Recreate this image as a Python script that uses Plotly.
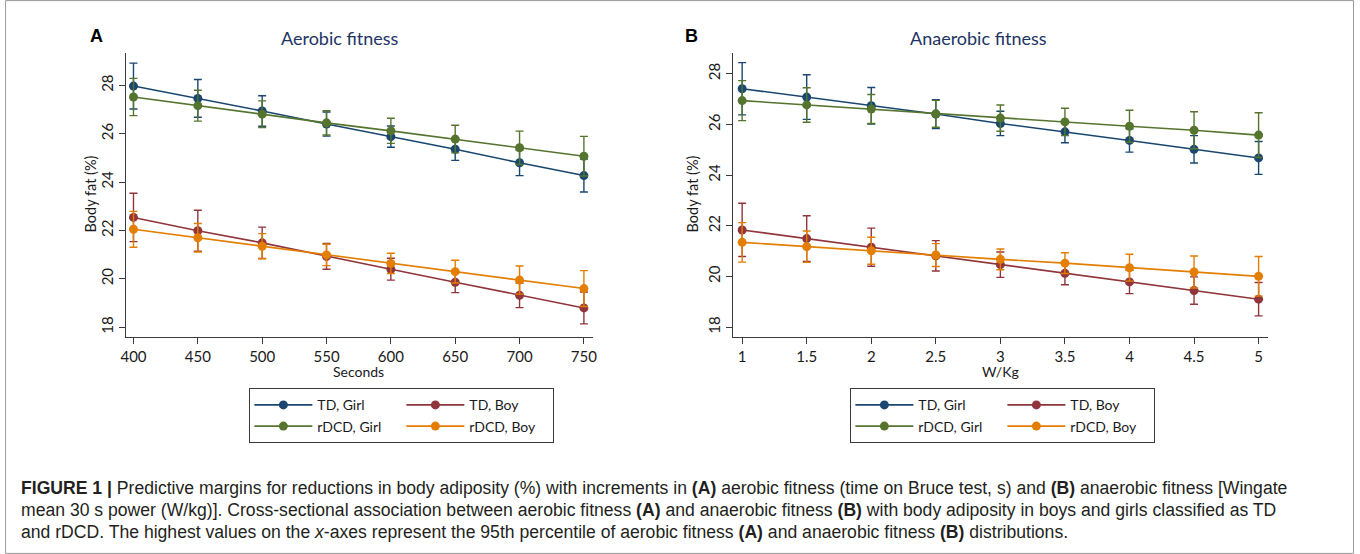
import plotly.graph_objects as go

W, H = 1360, 554

# ---------------- data ----------------
x_aer = [400, 450, 500, 550, 600, 650, 700, 750]
x_ana = [1, 1.5, 2, 2.5, 3, 3.5, 4, 4.5, 5]
x_aer_ticks = [400, 450, 500, 550, 600, 650, 700, 750]
x_ana_ticks = [1, 1.5, 2, 2.5, 3, 3.5, 4, 4.5, 5]
x_ana_ticklabels = ["1", "1.5", "2", "2.5", "3", "3.5", "4", "4.5", "5"]
y_ticks = [18, 20, 22, 24, 26, 28]

series_names = ["TD, Girl", "TD, Boy", "rDCD, Girl", "rDCD, Boy"]
series_groups = ["girl", "boy", "girl", "boy"]
series_colors = ["#1a476f", "#90353b", "#55752f", "#e37e00"]

# Panel A (aerobic fitness): predicted body fat and 95% CI half-widths
aer_td_girl = [27.97, 27.46, 26.94, 26.40, 25.88, 25.36, 24.80, 24.27]
aer_td_girl_ci = [0.95, 0.78, 0.63, 0.50, 0.44, 0.46, 0.53, 0.68]
aer_td_boy = [22.54, 21.99, 21.49, 20.93, 20.40, 19.86, 19.32, 18.80]
aer_td_boy_ci = [1.00, 0.85, 0.65, 0.53, 0.45, 0.43, 0.51, 0.66]
aer_rdcd_girl = [27.52, 27.16, 26.81, 26.45, 26.12, 25.78, 25.42, 25.07]
aer_rdcd_girl_ci = [0.77, 0.64, 0.55, 0.50, 0.52, 0.57, 0.69, 0.82]
aer_rdcd_boy = [22.05, 21.70, 21.35, 20.99, 20.64, 20.30, 19.95, 19.60]
aer_rdcd_boy_ci = [0.74, 0.59, 0.52, 0.44, 0.42, 0.47, 0.58, 0.74]

# Panel B (anaerobic fitness)
ana_td_girl = [27.41, 27.08, 26.74, 26.41, 26.04, 25.71, 25.37, 25.02, 24.68]
ana_td_girl_ci = [1.03, 0.88, 0.72, 0.57, 0.48, 0.43, 0.46, 0.54, 0.65]
ana_td_boy = [21.84, 21.50, 21.16, 20.82, 20.47, 20.13, 19.79, 19.45, 19.11]
ana_td_boy_ci = [1.05, 0.90, 0.75, 0.60, 0.50, 0.45, 0.46, 0.54, 0.66]
ana_rdcd_girl = [26.94, 26.77, 26.61, 26.42, 26.25, 26.10, 25.93, 25.77, 25.58]
ana_rdcd_girl_ci = [0.79, 0.68, 0.57, 0.53, 0.52, 0.54, 0.63, 0.73, 0.88]
ana_rdcd_boy = [21.35, 21.18, 21.02, 20.85, 20.68, 20.53, 20.35, 20.18, 20.01]
ana_rdcd_boy_ci = [0.78, 0.62, 0.53, 0.45, 0.41, 0.41, 0.53, 0.63, 0.78]

aer_series = [(aer_td_girl, aer_td_girl_ci), (aer_td_boy, aer_td_boy_ci),
              (aer_rdcd_girl, aer_rdcd_girl_ci), (aer_rdcd_boy, aer_rdcd_boy_ci)]
ana_series = [(ana_td_girl, ana_td_girl_ci), (ana_td_boy, ana_td_boy_ci),
              (ana_rdcd_girl, ana_rdcd_girl_ci), (ana_rdcd_boy, ana_rdcd_boy_ci)]

FONT = "Lato, 'Open Sans', sans-serif"

fig = go.Figure()


def add_panel(xv, series, xa, ya, legend_id, tag):
    for (vals, ci), name, grp, col in zip(series, series_names, series_groups, series_colors):
        fig.add_trace(go.Scatter(
            x=xv, y=vals, name=name, mode="lines+markers",
            xaxis=xa, yaxis=ya, legend=legend_id, legendgroup=tag + grp,
            line=dict(color=col, width=1.6),
            marker=dict(color=col, size=9),
            error_y=dict(type="data", array=ci, visible=True, color=col,
                         thickness=1.4, width=4),
        ))


add_panel(x_aer, aer_series, "x", "y", "legend", "A")
add_panel(x_ana, ana_series, "x2", "y2", "legend2", "B")

ydom = [(H - 336.7) / H, (H - 52.7) / H]
axis_common = dict(showline=True, linecolor="#3a3a3a", linewidth=1.2, ticks="outside",
                   ticklen=6, tickcolor="#3a3a3a", tickwidth=1.2, showgrid=False,
                   zeroline=False, tickfont=dict(family=FONT, size=15, color="#1a1a1a"))

legend_common = dict(y=(H - 388.3) / H, xanchor="left", yanchor="top",
                     orientation="h", bordercolor="#3a3a3a", borderwidth=1,
                     font=dict(family=FONT, size=14, color="#1a1a1a"),
                     itemwidth=58, tracegroupgap=0, entrywidth=79, itemclick=False)

fig.update_layout(
    width=W, height=H,
    margin=dict(l=0, r=0, t=0, b=0),
    paper_bgcolor="white", plot_bgcolor="white",
    showlegend=True,
    xaxis=dict(domain=[121.7 / W, 591.7 / W], range=[394.1, 756.9], anchor="y",
               tickvals=x_aer_ticks, **axis_common),
    yaxis=dict(domain=ydom, range=[17.61, 29.35], anchor="x", tickvals=y_ticks,
               tickangle=-90, **axis_common),
    xaxis2=dict(domain=[732.7 / W, 1271.7 / W], range=[0.928, 5.075], anchor="y2",
                tickvals=x_ana_ticks, ticktext=x_ana_ticklabels, **axis_common),
    yaxis2=dict(domain=ydom, range=[17.63, 28.83], anchor="x2", tickvals=y_ticks,
                tickangle=-90, **axis_common),
    legend=dict(x=246 / W, **legend_common),
    legend2=dict(x=851 / W, **legend_common),
)

ann = []


def add_text(text, x, y, size, color="#1a1a1a", family=FONT, angle=0, xanchor="center", bold=False):
    ann.append(dict(text=("<b>%s</b>" % text) if bold else text, x=x / W, y=(H - y) / H,
                    xref="paper", yref="paper", showarrow=False, xanchor=xanchor,
                    yanchor="middle", textangle=angle,
                    font=dict(family=family, size=size, color=color)))


add_text("A", 92, 36, 18, color="#000000", family="Liberation Sans, Arial", bold=True)
add_text("B", 691, 36, 18, color="#000000", family="Liberation Sans, Arial", bold=True)
add_text("Aerobic fitness", 337, 38.5, 18, color="#1e3464")
add_text("Anaerobic fitness", 979.5, 38.5, 18, color="#1e3464")
add_text("Body fat (%)", 86, 194, 14.5, angle=-90)
add_text("Body fat (%)", 692, 194, 14.5, angle=-90)
add_text("Seconds", 356, 371, 14)
add_text("W/Kg", 1002, 371, 14)

cap_font = "Liberation Sans, Arial"
cap1 = ("<b>FIGURE 1 |</b> Predictive margins for reductions in body adiposity (%) with increments in "
        "<b>(A)</b> aerobic fitness (time on Bruce test, s) and <b>(B)</b> anaerobic fitness [Wingate")
cap2 = ("mean 30 s power (W/kg)]. Cross-sectional association between aerobic fitness <b>(A)</b> and "
        "anaerobic fitness <b>(B)</b> with body adiposity in boys and girls classified as TD")
cap3 = ("and rDCD. The highest values on the <i>x</i>-axes represent the 95th percentile of aerobic "
        "fitness <b>(A)</b> and anaerobic fitness <b>(B)</b> distributions.")
add_text(cap1, 14, 488, 17.6, color="#231f20", family=cap_font, xanchor="left")
add_text(cap2, 14, 510, 17.6, color="#231f20", family=cap_font, xanchor="left")
add_text(cap3, 14, 532, 17.6, color="#231f20", family=cap_font, xanchor="left")

fig.update_layout(annotations=ann)

fig.add_shape(type="rect", xref="paper", yref="paper", x0=0.6 / W, x1=(W - 2.5) / W,
              y0=0.6 / H, y1=(H - 0.6) / H, line=dict(color="#9a9a9a", width=1),
              fillcolor="rgba(0,0,0,0)", layer="above")

fig.write_html("out.html", config={"displayModeBar": False},
               post_script="document.body.style.margin='0';document.body.style.overflow='hidden';")
